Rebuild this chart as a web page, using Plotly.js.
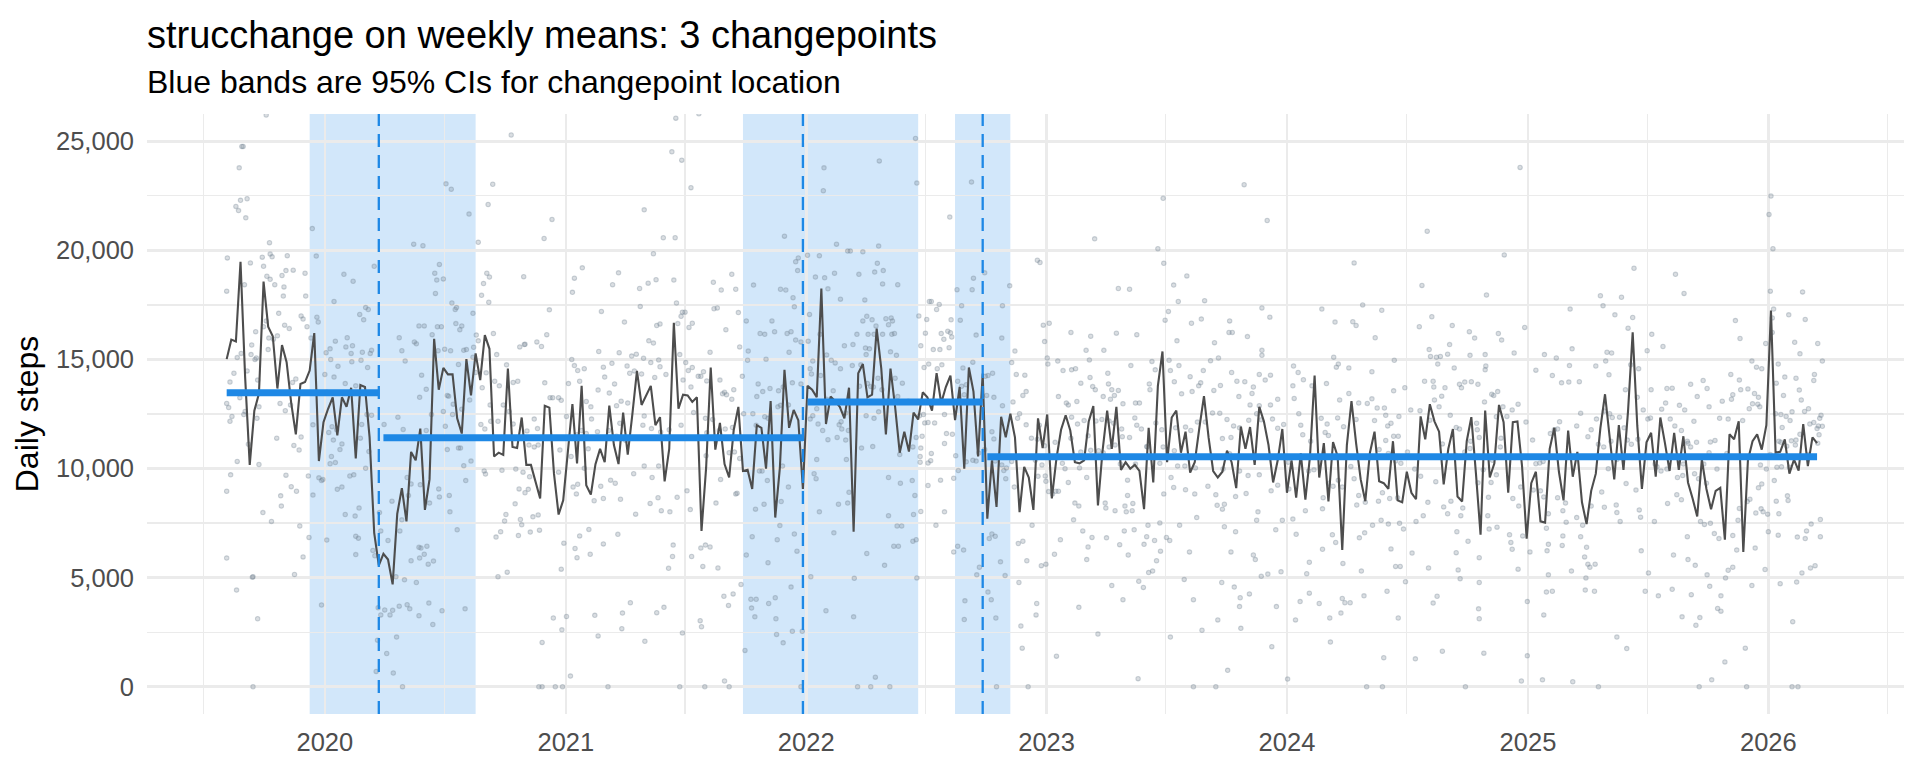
<!DOCTYPE html>
<html><head><meta charset="utf-8">
<script src="https://cdn.plot.ly/plotly-3.0.1.min.js"></script>
<style>html,body{margin:0;padding:0;background:#fff;} #chart{width:1920px;height:768px;}</style>
</head><body><div id="chart"></div>
<script>
// ---------- data ----------
const startDate = '2019-08-05';
const weeklyMeans = [15015,15908,15820,19478,14200,10168,12653,13440,18568,16503,16065,13668,15663,14875,13003,11568,13878,13965,14490,16205,
10343,12128,12740,13265,11515,13265,12828,13703,10465,13825,13738,11428,7053,5565,6090,5828,4690,7928,9100,7578,
10763,10378,11830,8103,9503,15943,13615,14613,14315,14315,12303,11603,15015,13353,15278,14053,16118,15488,10553,10728,
10623,14578,10990,10938,12338,10168,10168,9328,8628,12880,12793,9765,7893,8540,10815,12950,10238,13790,9240,8803,
10203,10903,10290,12880,11078,10203,12565,10640,12478,14473,12915,13353,13790,11988,12355,9415,10903,16678,12740,13388,
13353,13055,13265,7140,10028,14630,10868,12093,10203,9590,11778,12828,9888,9940,9065,11988,11865,9993,13090,7753,
10028,14525,11865,12688,12215,9065,13790,13615,13265,18253,12040,13300,13090,12828,12303,13703,7105,14368,14788,13265,
13388,16415,14578,11568,14578,12828,10728,11690,10780,12565,12250,13493,13265,12653,14368,13003,13738,14263,12215,13738,
9993,14630,13528,10553,14350,7700,10378,8243,12373,11428,12513,11428,7998,10080,9590,8103,12303,10938,12478,8628,
10465,11778,12443,11743,10290,10238,10378,12163,12863,8313,10815,12653,10903,12828,9940,10290,9993,10168,9888,8138,
11865,9363,13790,15365,10290,12338,12653,10728,11690,9818,10290,11865,13318,11428,9888,9590,9853,10815,10290,9100,
11918,10903,11900,10168,12828,12163,11078,9363,10378,11813,8890,10378,8663,10693,8575,10553,14263,9590,11165,8488,
11218,10553,6265,11078,13090,11165,9503,8505,10728,11690,9415,9328,9065,11253,8540,8453,9853,8890,8593,12390,
11340,12950,12163,11690,9275,10903,11813,8715,8488,11253,12355,9765,6965,12653,9590,10238,12915,12128,8890,12128,
12163,10115,6790,9328,9853,7578,7525,10903,11865,9853,8540,11743,9625,10763,8453,7455,8978,9765,11865,13405,
11428,9503,11988,9940,12653,16240,11953,9065,11200,11638,9625,12338,11165,9888,11638,9940,11480,9363,8628,7805,
10413,9065,8138,8978,9118,6738,11568,11340,12163,6178,10378,11253,11568,10868,11988,17238,10728,10763,11340,9765,
10413,9905,12040,10115,11428,11165];

const segStart = ['2019-08-05','2020-03-30','2022-01-03','2022-10-03'];
const segEnd   = ['2020-03-23','2021-12-27','2022-09-26','2026-03-16'];
const segMean  = [13475,11410,13055,10535];

const changepoints = ['2020-03-23','2021-12-27','2022-09-26'];
const ciLow  = ['2019-12-09','2021-09-27','2022-08-15'];
const ciHigh = ['2020-08-17','2022-06-20','2022-11-07'];

const yearTicks  = ['2020-01-01','2021-01-01','2022-01-01','2023-01-01','2024-01-01','2025-01-01','2026-01-01'];
const yearLabels = ['2020','2021','2022','2023','2024','2025','2026'];
const midYearTicks = ['2019-07-01','2020-07-01','2021-07-01','2022-07-01','2023-07-01','2024-07-01','2025-07-01','2026-07-01'];
const yTicks  = [0,5000,10000,15000,20000,25000];
const yLabels = ['0','5,000','10,000','15,000','20,000','25,000'];
const yMinorTicks = [2500,7500,12500,17500,22500];

// daily observations: [days since startDate, steps]
const dailyObs = [
[60,26200],[23,24763],[25,24763],[19,23783],[21,22295],[14,22015],[18,21823],[31,22365],[29,21490],[65,20353],[130,21000],[1,19653],[54,19688],[66,19828],[69,19705],[92,19758],[136,19740],[36,19425],[56,19268],[0,18130],[27,18428],[61,18813],[66,18673],[73,18428],[90,19075],[84,18848],[101,19093],[119,18953],[178,18900],[192,18585],[87,18323],[120,17903],[86,17903],[163,17658],[224,19268],[79,17115],[88,16573],[95,16415],[113,16993],[116,16853],[122,16503],[60,16765],[44,16275],[56,16503],[64,15978],[77,16083],[71,15925],[38,15663],[45,15068],[63,15453],[137,16940],[139,16713],[211,17378],[215,17290],[202,17063],[208,16818],[183,15995],[262,15995],[165,15838],[181,15575],[191,15628],[189,15278],[206,15330],[220,15418],[218,15278],[266,15400],[271,14928],[128,15978],[151,15313],[157,15488],[158,14998],[169,14683],[190,14893],[204,14963],[214,14630],[22,15278],[16,15085],[11,14368],[5,13965],[0,12985],[3,12793],[8,12390],[5,12163],[31,14473],[37,15225],[43,14998],[47,14053],[49,12828],[46,12303],[26,12478],[28,12618],[20,13248],[33,11113],[16,10325],[6,9713],[0,8960],[49,10185],[55,7980],[68,7578],[40,5040],[39,5023],[15,4428],[47,3115],[40,0],[0,5898],[76,11393],[81,12985],[89,12653],[97,12915],[100,13948],[105,14105],[102,11060],[110,10850],[113,11445],[90,9695],[98,9170],[106,8960],[82,8750],[83,8278],[124,9660],[131,8785],[111,7368],[125,6843],[116,5950],[103,5145],[131,12005],[149,14315],[152,13493],[163,14193],[162,11305],[160,11918],[167,11778],[172,10868],[175,11130],[155,11655],[146,9503],[140,9573],[144,9450],[159,10553],[165,10273],[157,10220],[168,9048],[175,9153],[187,9660],[193,9713],[180,7893],[195,7823],[201,8190],[211,10010],[205,12023],[203,11393],[216,10780],[220,12443],[144,3745],[152,6720],[196,6895],[200,6808],[196,6055],[222,6248],[225,6003],[230,3623],[234,3290],[240,3518],[248,3290],[252,3500],[245,6703],[251,8505],[266,7648],[276,8768],[257,5040],[270,4900],[239,12023],[260,12355],[268,11795],[258,2275],[229,2135],[243,1523],[227,700],[253,630],[267,0],[232,7980],[234,7140],[263,7140],[262,3693],[274,3763],[274,9590],[213,12478],[196,13790],[180,13895],
[432,25288],[333,23048],[341,22803],[404,23030],[397,22103],[368,21665],[494,21420],[482,20545],[382,20370],[284,20283],[298,20213],[323,19355],[316,18953],[319,18638],[329,18690],[317,18025],[395,18953],[399,18778],[451,18795],[390,18480],[387,17938],[398,17623],[342,17588],[347,17290],[349,17378],[374,17115],[490,17273],[525,18078],[528,18725],[540,19198],[595,18970],[586,18428],[569,17203],[604,16713],[292,16538],[300,16538],[320,16503],[326,16503],[348,16643],[357,16538],[354,16363],[312,16135],[288,15715],[285,15803],[379,16118],[405,16188],[382,15855],[452,15680],[453,15698],[445,15575],[471,15803],[478,15593],[486,16135],[340,15400],[331,15470],[321,15400],[364,15453],[375,15558],[374,15103],[352,14770],[360,15418],[410,15225],[425,14753],[524,14998],[528,14718],[543,14578],[533,14490],[565,15365],[596,15313],[585,14823],[572,14648],[608,14700],[296,14280],[293,13265],[303,13633],[335,13353],[337,13318],[344,12950],[357,12723],[369,13143],[378,14403],[394,14385],[388,13703],[400,12915],[407,14000],[414,13790],[420,12915],[429,12618],[435,13948],[442,14000],[483,13930],[491,13248],[495,13248],[504,13248],[508,13125],[519,13895],[536,14000],[546,13073],[553,12828],[546,11603],[564,13598],[574,14193],[581,13458],[589,13878],[599,13090],[592,12880],[609,13003],[303,11743],[311,12478],[329,12618],[343,12478],[332,11935],[386,12023],[401,12163],[392,11813],[412,12163],[435,12040],[456,11725],[467,12268],[472,11830],[459,11078],[467,10990],[473,11078],[506,10850],[516,12390],[523,10553],[532,11550],[539,11743],[549,10903],[554,12268],[563,11690],[580,11743],[592,11480],[597,12075],[606,11288],[335,10868],[352,10938],[355,10938],[371,10343],[360,10133],[363,9450],[391,9888],[393,9748],[418,9923],[439,9975],[450,9835],[460,9625],[504,9835],[533,9275],[543,10010],[558,8523],[568,9188],[572,8628],[583,9468],[590,9328],[598,8593],[526,9153],[531,8838],[444,9065],[458,9048],[453,8890],[438,8383],[323,8698],[322,9065],[338,8768],[308,8418],[280,9293],[294,9258],[339,8015],[350,7193],[424,7893],[422,7595],[446,7665],[448,7420],[465,7788],[473,7875],[461,7088],[475,7175],[409,6860],[416,7105],[443,6930],[512,6580],[508,5390],[529,6335],[532,5915],[536,6913],[552,6073],[550,7210],[572,6545],[594,6983],[292,6388],[295,6353],[304,6440],[300,6073],[306,5618],[314,5758],[280,5775],[293,5898],[288,4778],[412,5040],[426,5250],[278,3570],[292,3255],[307,3833],[327,3483],[313,2853],[362,3570],[496,3150],[516,3220],[509,2608],[479,2030],[559,3273],[564,2328],[601,3378],[600,2660],[522,490],[474,0],[479,0],[499,0],[510,0],[579,0],
[682,26058],[717,26260],[676,24518],[691,24133],[705,22873],[634,21858],[663,20580],[681,20580],[648,19845],[847,20650],[907,23783],[906,22733],[926,20283],[627,18253],[640,18498],[652,18655],[679,18638],[683,17588],[628,17430],[739,18533],[751,18183],[767,18900],[773,18218],[800,18410],[841,18218],[849,18183],[860,17833],[862,17413],[864,19478],[868,19653],[867,19075],[882,19775],[900,19758],[894,18778],[908,18743],[913,18235],[923,18953],[932,17763],[943,19968],[692,17168],[696,17168],[690,16975],[685,16643],[658,16625],[653,16555],[702,16468],[707,16660],[758,16363],[740,17325],[745,17360],[777,17150],[789,16765],[828,16765],[810,16188],[817,16153],[832,16275],[851,16188],[857,16275],[854,15330],[864,15890],[872,15803],[885,17063],[883,15838],[901,16153],[938,15628],[641,15855],[648,15750],[615,15155],[622,15243],[633,15050],[644,14858],[656,14980],[688,15225],[697,14858],[701,14490],[707,14630],[716,14228],[724,14438],[734,15330],[779,15575],[792,15383],[791,14963],[819,15015],[890,14928],[918,14963],[924,14840],[911,15208],[932,14578],[667,14315],[658,14665],[650,14175],[630,14333],[619,14473],[612,14368],[693,14053],[705,13738],[720,14228],[729,14018],[749,14053],[756,13493],[767,13178],[753,13423],[770,13615],[783,14228],[807,13878],[814,13528],[805,13300],[825,13668],[838,13563],[845,13738],[859,13930],[872,13878],[888,14333],[886,14578],[902,14263],[896,12740],[911,13178],[921,13563],[930,12005],[934,11813],[927,11428],[913,11323],[940,11305],[634,12408],[645,11830],[632,11988],[672,11778],[659,11673],[690,11988],[709,12565],[727,12303],[729,11638],[738,12250],[757,11813],[759,13388],[748,11743],[768,11883],[785,12513],[799,12513],[817,12373],[822,12303],[804,11988],[837,12828],[841,12898],[853,12915],[890,12425],[886,12268],[898,12040],[905,11743],[933,12145],[940,12548],[944,11743],[618,9765],[634,10115],[646,9590],[656,10115],[728,10588],[750,9503],[763,10728],[771,10763],[779,10465],[773,8838],[809,9888],[813,9888],[821,9450],[844,10115],[853,9153],[892,9765],[895,9538],[900,8015],[896,10413],[941,10413],[621,7910],[643,8400],[655,8663],[660,8068],[673,8015],[684,8680],[699,8978],[704,8120],[743,8418],[775,8873],[803,8138],[816,8365],[842,8488],[929,8365],[943,8418],[678,6493],[677,5968],[671,5425],[706,5968],[720,6353],[727,6493],[734,6405],[723,5513],[746,5443],[798,6878],[789,6038],[822,5688],[836,6738],[840,7385],[862,7000],[866,6213],[887,5040],[922,7053],[781,4690],[769,4253],[755,4148],[762,3728],[796,4008],[804,4008],[797,3605],[802,3203],[823,3815],[833,4078],[834,3115],[857,4568],[613,3850],[653,3395],[664,3640],[719,3028],[721,2748],[692,2468],[635,2083],[787,1663],[835,2398],[845,2013],[859,2538],[874,2538],[910,3483],[688,0],[726,0],[756,263],[763,0],[872,0],
[1046,25130],[991,24098],[1048,23083],[1131,23135],[1098,21525],[947,19968],[966,19933],[990,20195],[1231,19548],[1235,19443],[988,19408],[984,19005],[997,19075],[960,18900],[996,18463],[1019,18428],[1151,18970],[1134,18725],[1109,18200],[1132,18200],[1189,18375],[969,17728],[1067,17658],[1070,17658],[1078,17290],[1082,17518],[1116,17465],[1178,17465],[966,16765],[972,16975],[980,16818],[986,16538],[1001,16870],[1009,16905],[1011,16765],[1005,16590],[1063,16835],[1100,16818],[1114,16800],[1051,16993],[957,16153],[974,16153],[983,16153],[996,16153],[1010,16153],[1014,16188],[1061,16205],[1085,16188],[1099,16223],[1095,16293],[1101,16030],[1138,16118],[1177,15978],[1240,16573],[1249,16660],[1242,15820],[1197,15383],[951,15680],[970,15523],[976,15488],[971,15225],[1008,15348],[1017,15190],[1054,15628],[1073,15453],[1083,15453],[1089,15925],[1097,15540],[1079,14578],[1059,14630],[1066,14788],[1086,14753],[1118,14613],[1133,14875],[1156,14263],[1163,14368],[1152,14228],[1192,14858],[1246,15068],[1247,14788],[1262,14928],[1270,14490],[1199,14315],[1212,14280],[950,14718],[963,14753],[973,13895],[978,13755],[982,13738],[989,14140],[995,13615],[1015,14140],[1026,13913],[1019,13300],[1035,13090],[961,13773],[1110,14000],[1116,13773],[1120,13388],[1123,13843],[1154,13353],[1165,13265],[1194,13055],[1209,13353],[1214,13528],[1263,13300],[1278,12915],[1178,12880],[990,12600],[983,12303],[971,12425],[1052,12425],[1058,12478],[1060,12093],[1065,12110],[1075,12093],[1090,12478],[1093,11603],[1102,11568],[1090,11148],[1162,11690],[1165,11358],[1204,12513],[1201,12303],[1214,12005],[1222,11393],[1234,11988],[1242,11043],[1231,11340],[1275,13003],[1258,11200],[964,10938],[981,11008],[1022,10640],[1042,10990],[1047,11428],[1056,11480],[1054,10938],[1053,10553],[1070,10693],[1053,10290],[1065,10255],[1069,10360],[1111,9905],[1107,10588],[1133,10378],[1138,10343],[1142,10710],[1123,10308],[1151,10868],[1167,10343],[1177,10168],[1184,10028],[1180,9905],[1196,9153],[1183,9538],[1192,10325],[1228,10378],[1232,9643],[1243,9660],[1238,10168],[1244,9415],[1248,8943],[1254,8838],[1259,8960],[1263,8960],[1273,9993],[1269,10238],[1005,9590],[1023,9328],[1041,9450],[1084,9468],[1065,9223],[1045,8768],[1104,9555],[945,8908],[1005,7840],[1018,7368],[1025,7368],[1043,7893],[1054,8033],[1090,8015],[1077,7403],[1042,6668],[1047,6738],[1013,6440],[1020,6440],[1104,6178],[1110,6440],[1119,6265],[972,6108],[999,5565],[1158,6790],[1162,7000],[1167,6895],[1143,5478],[1139,5128],[1182,5093],[1175,5723],[1202,6563],[1209,6668],[1223,7403],[1215,5775],[1237,5548],[1244,5618],[1266,6738],[1257,6073],[953,4970],[1048,4988],[1156,4340],[1161,3990],[1121,3938],[1120,3080],[1168,3150],[1203,4778],[1206,2783],[1230,3815],[1229,3290],[1208,1768],[1260,1400],[952,3203],[985,438],[978,0],[958,0],[1007,0],[1169,0],[1217,0],
[1545,23013],[1422,22383],[1580,21368],[1318,20528],[1414,20073],[1423,19408],[1438,18410],[1458,18830],[1354,18253],[1371,18218],[1445,17658],[1485,17693],[1430,17203],[1425,16800],[1465,16660],[1480,16853],[1523,16765],[1527,16240],[1522,16240],[1572,17360],[1584,16940],[1282,16240],[1312,16065],[1351,16205],[1382,16135],[1443,15855],[1500,15768],[1305,15418],[1332,15418],[1310,14980],[1405,14910],[1431,14963],[1446,14718],[1494,14945],[1506,15068],[1550,16048],[1572,15418],[1572,15190],[1373,14718],[1283,14525],[1289,14578],[1297,13913],[1315,13755],[1319,13615],[1311,14175],[1338,14368],[1339,13878],[1331,13300],[1344,13615],[1354,13580],[1348,13353],[1342,13178],[1361,12968],[1380,13003],[1386,13003],[1410,14525],[1401,13878],[1402,13615],[1433,14490],[1439,13983],[1450,13423],[1463,14210],[1466,13528],[1479,13930],[1483,14490],[1476,13790],[1499,13580],[1509,13808],[1526,14403],[1534,14000],[1546,13983],[1537,13300],[1557,13440],[1559,13738],[1568,14315],[1577,14053],[1585,14280],[1596,13178],[1554,12915],[1568,12880],[1585,12915],[1291,13073],[1283,12355],[1292,12040],[1302,12198],[1308,11498],[1320,12180],[1329,12250],[1340,12180],[1347,12075],[1359,11813],[1360,11463],[1371,11428],[1379,12320],[1382,11988],[1389,11813],[1397,11008],[1411,12093],[1420,11778],[1441,11865],[1456,11900],[1464,11743],[1474,12128],[1486,12128],[1497,12548],[1508,12530],[1519,12250],[1525,11428],[1529,11953],[1538,11865],[1552,12215],[1564,12513],[1571,12233],[1588,12268],[1596,11848],[1605,12023],[1282,11393],[1297,10763],[1295,10028],[1306,9590],[1312,10833],[1324,10815],[1331,10728],[1340,10990],[1349,11078],[1357,10203],[1368,9468],[1380,10203],[1398,10990],[1417,10238],[1422,10990],[1439,10815],[1444,10115],[1455,10115],[1471,10028],[1512,11375],[1513,9975],[1523,10675],[1538,9888],[1551,9678],[1568,9713],[1586,8978],[1596,9240],[1612,10290],[1278,9363],[1288,8418],[1294,8278],[1334,8418],[1335,8190],[1349,8068],[1364,8278],[1366,8015],[1375,8068],[1376,8400],[1368,8768],[1423,8838],[1434,9590],[1438,9135],[1456,9030],[1470,8838],[1473,7753],[1490,9188],[1502,8803],[1504,8313],[1512,8138],[1515,8365],[1532,8715],[1548,8855],[1564,7630],[1566,8015],[1286,7648],[1300,7140],[1314,6843],[1308,6405],[1306,5828],[1336,6825],[1356,6510],[1363,7140],[1369,6038],[1378,7193],[1393,6528],[1397,6878],[1399,7403],[1409,6703],[1417,7508],[1418,6213],[1412,5775],[1400,5233],[1406,5303],[1427,6843],[1432,6703],[1447,7403],[1462,6178],[1515,7333],[1525,6178],[1532,7105],[1559,6038],[1562,5828],[1571,5058],[1581,5163],[1593,7193],[1601,5268],[1603,7630],[1344,4638],[1361,3990],[1385,4830],[1392,4550],[1454,4918],[1468,3990],[1511,4778],[1530,4568],[1539,4078],[1538,3675],[1553,4253],[1594,3675],[1294,3640],[1323,2415],[1433,2275],[1481,2590],[1505,3063],[1540,2678],[1587,1838],[1384,368],[1520,753],[1468,0],[1502,0],[1611,350],
[1823,20878],[1940,19793],[1712,19425],[1815,18393],[1913,17955],[1663,17308],[1725,17500],[1754,17255],[1683,16713],[1710,16730],[1715,16555],[1744,15995],[1811,16503],[1830,16958],[1861,16555],[1887,16275],[1895,15978],[1931,16188],[1936,15890],[1681,15103],[1688,14788],[1685,14648],[1704,14613],[1739,14438],[1773,14963],[1826,15453],[1828,15138],[1837,15103],[1839,14788],[1843,15138],[1854,15243],[1857,15680],[1888,15190],[1911,15225],[1912,14700],[1911,14525],[1620,14700],[1627,14403],[1635,14070],[1619,13790],[1621,13213],[1628,12513],[1631,11988],[1634,11550],[1648,13790],[1670,13895],[1690,13143],[1704,13440],[1719,13003],[1732,12985],[1739,13195],[1747,12775],[1758,12775],[1772,13563],[1789,13703],[1760,12443],[1743,12198],[1715,12250],[1696,11918],[1687,12320],[1662,12303],[1671,12040],[1668,11655],[1673,11515],[1646,11253],[1798,12688],[1812,12653],[1819,14000],[1832,14000],[1833,13738],[1834,13143],[1845,13318],[1850,13703],[1864,14613],[1872,13860],[1875,13703],[1880,13965],[1890,13983],[1900,13860],[1910,13055],[1921,13405],[1924,13353],[1930,13528],[1938,12828],[1827,12215],[1841,12828],[1858,12443],[1867,11883],[1872,11813],[1880,10763],[1889,11253],[1898,12075],[1899,11778],[1902,11428],[1928,12373],[1935,11393],[1944,12390],[1934,10990],[1922,10378],[1763,11953],[1768,12075],[1780,12390],[1772,11480],[1779,11480],[1750,10868],[1764,10693],[1760,11288],[1775,10343],[1783,10238],[1793,10763],[1804,9975],[1813,9643],[1836,9398],[1846,11130],[1866,10605],[1888,10920],[1900,9345],[1908,9940],[1920,9363],[1928,9713],[1643,9888],[1651,9940],[1638,8068],[1619,7683],[1624,6983],[1613,9065],[1665,8663],[1664,8155],[1673,9328],[1680,9188],[1688,9468],[1694,9153],[1707,10098],[1712,9538],[1719,8768],[1716,8330],[1729,8453],[1749,8505],[1755,8890],[1766,8628],[1778,8663],[1781,7490],[1787,7228],[1764,7455],[1753,7630],[1740,7403],[1720,6825],[1728,7053],[1806,7578],[1817,7840],[1824,8453],[1848,8243],[1854,7928],[1859,8505],[1874,7840],[1877,8190],[1868,7105],[1885,6668],[1902,5915],[1915,7840],[1917,7228],[1929,7315],[1916,8680],[1679,6965],[1684,6615],[1664,6300],[1640,5180],[1644,5705],[1695,5653],[1723,5303],[1768,6318],[1775,5513],[1782,5513],[1800,6125],[1825,5443],[1867,6143],[1870,5355],[1873,4953],[1902,4778],[1790,4813],[1630,3903],[1644,4288],[1623,3063],[1659,3815],[1675,3150],[1692,3378],[1694,4043],[1698,3850],[1706,3850],[1727,4165],[1762,4375],[1779,3150],[1832,3833],[1838,4148],[1901,3570],[1902,3115],[1676,2048],[1757,1330],[1805,1278],[1846,1628],[1909,1540],[1731,0],[1755,0],[1881,0],
[1964,23800],[2200,18900],[2137,19180],[2213,18025],[2086,17920],[2090,17465],[2118,17850],[2040,17308],[2108,17045],[2135,16923],[2128,16433],[1971,16468],[1955,15295],[2001,15225],[2019,15068],[2043,15488],[2096,15330],[2103,15295],[2181,15593],[2164,16153],[2157,15400],[1988,14508],[2013,14263],[2027,13930],[2039,14718],[2038,13965],[2054,13983],[2079,14700],[2094,14928],[2099,14298],[2132,14753],[2144,14578],[2124,13615],[2142,13265],[2163,13615],[2187,13668],[2195,13685],[2223,13860],[2233,13300],[2242,14035],[2248,13668],[2251,12828],[2271,13090],[1961,12950],[1952,12688],[1973,12128],[1983,11305],[1988,10220],[1994,10255],[1999,10325],[2010,11603],[2016,11778],[2021,11813],[2024,12145],[2050,11953],[2056,12530],[2072,11778],[2080,12268],[2092,12635],[2100,12513],[2104,12338],[2115,12355],[2122,11865],[2102,11253],[2067,11463],[2083,11113],[2091,10990],[2098,9993],[2111,10413],[2127,11305],[2133,11113],[2143,11340],[2151,12688],[2158,12268],[2162,12320],[2179,12723],[2185,13003],[2192,12268],[2199,11953],[2206,12898],[2209,11743],[2214,12688],[2218,11253],[2223,10990],[2219,11165],[2228,12163],[2232,11200],[2253,11218],[2260,11288],[2267,12303],[2280,12268],[2238,10535],[2243,10203],[2251,10728],[2278,10693],[2169,10203],[2172,10080],[2178,9888],[2187,9975],[2197,10553],[2212,10203],[2211,9678],[2203,9590],[2229,9765],[2235,9538],[2247,9328],[2263,9975],[1965,9153],[1953,8628],[1962,8278],[1984,9013],[1995,8978],[2000,8698],[2007,7928],[2021,8663],[2033,8418],[2034,7543],[2029,8068],[2050,7753],[2056,6878],[2072,8278],[2088,8925],[2092,8225],[2110,8330],[2111,7980],[2116,7578],[2125,9310],[2140,9013],[2145,8103],[2147,7770],[2168,7578],[2188,8400],[2202,8803],[2209,8575],[2238,7578],[2244,7438],[2253,7490],[2259,7018],[2266,6790],[1948,6965],[1950,6615],[1952,6300],[1979,6178],[1968,6913],[2004,7263],[2005,6230],[2007,6528],[2029,6913],[2028,6475],[2059,7403],[2065,6388],[2062,5950],[2067,5618],[2070,5478],[2078,5618],[2042,5303],[2007,5128],[2064,4988],[2148,6230],[2159,5215],[2197,6038],[2218,6878],[2219,5828],[2230,5565],[2248,5128],[2280,5338],[1961,5390],[2004,4340],[2013,4375],[2063,4428],[2077,4375],[2154,4375],[2174,4165],[2195,4463],[2224,4218],[2252,4603],[2269,4165],[2276,4988],[2264,3588],[2269,3465],[2210,3203],[2231,2818],[2237,3168],[1975,3903],[2000,3290],[2111,2275],[2126,1750],[1975,1418],[1966,263],[1998,315],[2044,228],[2083,0],[2236,0],[2255,315],[2275,1138],
[2345,22488],[2342,21648],[2348,20073],[2344,18130],[2393,18095],[2349,17308],[2347,16905],[2347,16240],[2372,17045],[2397,16835],[2291,16783],[2298,15960],[2337,15733],[2381,15785],[2389,15260],[2416,15733],[2423,14928],[2316,14928],[2323,14648],[2331,14578],[2356,14788],[2411,14315],[2410,14035],[2284,14315],[2297,14053],[2299,13615],[2310,13650],[2320,13440],[2326,13265],[2287,13388],[2285,13178],[2312,12740],[2317,12968],[2325,12950],[2328,12828],[2353,13913],[2364,13353],[2366,14193],[2383,14140],[2388,13598],[2391,13143],[2402,12740],[2396,12618],[2419,12303],[2421,12443],[2302,12198],[2352,12513],[2360,12478],[2368,12390],[2374,12198],[2362,11883],[2377,12600],[2404,12040],[2410,12110],[2415,11830],[2417,11953],[2423,11935],[2418,11550],[2389,11568],[2383,11305],[2376,11270],[2360,11200],[2357,11253],[2369,11025],[2402,10640],[2344,10640],[2329,10168],[2338,9975],[2354,10063],[2361,10080],[2373,10063],[2382,11078],[2416,11165],[2331,9293],[2326,9118],[2350,9450],[2370,8750],[2371,8540],[2353,8505],[2313,8593],[2309,8488],[2322,7963],[2330,8155],[2333,8015],[2340,7910],[2357,7928],[2406,7455],[2420,7665],[2297,8173],[2295,7630],[2287,6930],[2336,5373],[2341,7105],[2356,6948],[2385,6860],[2397,6790],[2399,7140],[2420,6878],[2293,6265],[2321,6353],[2316,4638],[2359,4725],[2384,4795],[2392,5215],[2405,5443],[2412,5548],[2287,5478],[2378,2983],[2306,1768],[2308,0],[2377,0],[2386,0]
];

// ---------- helpers ----------
function addDays(iso, n) {
  const t = Date.parse(iso + 'T00:00:00Z') + n * 86400000;
  return new Date(t).toISOString().slice(0, 10);
}
const FONT = 'Liberation Sans, Arial, Helvetica, sans-serif';
const BLUE = '#1E88E5';

const weekDates = weeklyMeans.map((_, i) => addDays(startDate, 7 * i));
const dailyX = dailyObs.map(p => addDays(startDate, p[0]));
const dailyY = dailyObs.map(p => p[1]);

const segX = [], segY = [];
segStart.forEach((s, i) => { segX.push(s, segEnd[i], null); segY.push(segMean[i], segMean[i], null); });

const traces = [
  { type: 'scatter', mode: 'markers', x: dailyX, y: dailyY, hoverinfo: 'skip',
    marker: { size: 4.4, color: 'rgba(112,128,144,0.26)', line: { color: 'rgba(112,128,144,0.34)', width: 1.1 } } },
  { type: 'scatter', mode: 'lines', x: weekDates, y: weeklyMeans, hoverinfo: 'skip',
    line: { color: '#4d4d4d', width: 2.1 } },
  { type: 'scatter', mode: 'lines', x: segX, y: segY, hoverinfo: 'skip', connectgaps: false,
    line: { color: BLUE, width: 7 } }
];

const shapes = [];
ciLow.forEach((lo, i) => shapes.push({
  type: 'rect', xref: 'x', yref: 'paper', x0: lo, x1: ciHigh[i], y0: 0, y1: 1,
  fillcolor: 'rgba(30,136,229,0.2)', line: { width: 0 }, layer: 'between'
}));
changepoints.forEach(cp => shapes.push({
  type: 'line', xref: 'x', yref: 'paper', x0: cp, x1: cp, y0: 0, y1: 1,
  line: { color: BLUE, width: 2.3, dash: '13px,8px' }, layer: 'above'
}));

const layout = {
  width: 1920, height: 768,
  margin: { l: 147, r: 16, t: 114, b: 54 },
  paper_bgcolor: '#ffffff', plot_bgcolor: '#ffffff',
  showlegend: false,
  font: { family: FONT, color: '#000' },
  title: {
    text: 'strucchange on weekly means: 3 changepoints',
    font: { family: FONT, size: 38, color: '#000' },
    xref: 'paper', x: 0, xanchor: 'left',
    yref: 'container', y: 1 - 35 / 768, yanchor: 'middle'
  },
  annotations: [{
    text: 'Blue bands are 95% CIs for changepoint location',
    xref: 'paper', x: 0, xanchor: 'left', xshift: -2,
    yref: 'paper', y: 1 + 32 / 600, yanchor: 'middle',
    showarrow: false, font: { family: FONT, size: 32, color: '#000' }
  }],
  xaxis: {
    type: 'date', range: ['2019-04-06', '2026-07-26'],
    tickmode: 'array', tickvals: yearTicks, ticktext: yearLabels,
    tickfont: { family: FONT, size: 25.5, color: '#4d4d4d' },
    ticks: '', ticklabelstandoff: 10,
    showgrid: true, gridcolor: '#EBEBEB', gridwidth: 2.6,
    minor: { tickmode: 'array', tickvals: midYearTicks, showgrid: true, gridcolor: '#EBEBEB', gridwidth: 1.3 },
    zeroline: false, showline: false, fixedrange: true
  },
  yaxis: {
    range: [-1250, 26250],
    tickmode: 'array', tickvals: yTicks, ticktext: yLabels,
    tickfont: { family: FONT, size: 25.5, color: '#4d4d4d' },
    ticks: '', ticklabelstandoff: 12,
    showgrid: true, gridcolor: '#EBEBEB', gridwidth: 2.6,
    minor: { tickmode: 'array', tickvals: yMinorTicks, showgrid: true, gridcolor: '#EBEBEB', gridwidth: 1.3 },
    zeroline: false, showline: false, fixedrange: true,
    title: { text: 'Daily steps', font: { family: FONT, size: 32, color: '#000' }, standoff: 7 }
  },
  shapes: shapes
};

Plotly.newPlot('chart', traces, layout, { displayModeBar: false, staticPlot: true });
</script>
</body></html>
